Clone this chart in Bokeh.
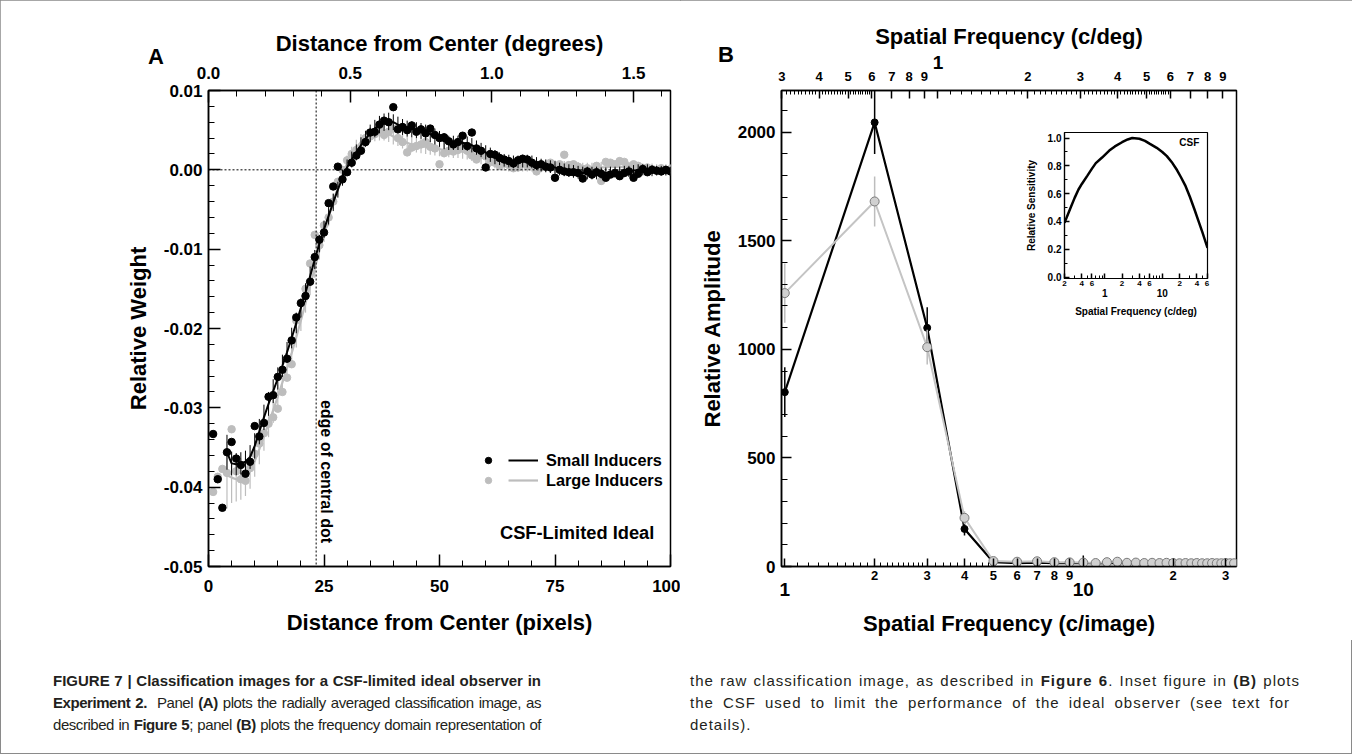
import numpy as np
from bokeh.plotting import figure
from bokeh.models import (Range1d, LinearAxis, LogAxis, LogScale, FixedTicker,
                          NumeralTickFormatter, ColumnDataSource, Span, Label,
                          Legend, LegendItem, GridBox, Div)
from bokeh.embed import file_html
from bokeh.resources import INLINE

FONT = "Liberation Sans"

# ---------------- Panel A data ----------------
pix = list(range(1, 101))
small_pts = [
    -0.0333, -0.0390, -0.0426, -0.0356, -0.0343, -0.0364, -0.0372, -0.0383, -0.0368, -0.0323,
    -0.0336, -0.0319, -0.0286, -0.0284, -0.0261, -0.0252, -0.0238, -0.0215, -0.0186, -0.0168,
    -0.0159, -0.0141, -0.0110, -0.0088, -0.0079, -0.0042, -0.0021, 0.0004, -0.0012, -0.0003,
    0.0009, 0.0018, 0.0024, 0.0035, 0.0047, 0.0048, 0.0057, 0.0062, 0.0060, 0.0079,
    0.0051, 0.0054, 0.0050, 0.0056, 0.0048, 0.0051, 0.0046, 0.0052, 0.0044, 0.0040,
    0.0041, 0.0036, 0.0032, 0.0035, 0.0043, 0.0030, 0.0047, 0.0027, 0.0024, 0.0003,
    0.0020, 0.0019, 0.0015, 0.0013, 0.0011, 0.0008, 0.0012, 0.0014, 0.0013, 0.0009,
    0.0006, 0.0007, 0.0004, 0.0003, -0.0010, 0.0000, -0.0002, -0.0003, -0.0003, -0.0004,
    -0.0011, -0.0002, -0.0006, -0.0003, -0.0005, -0.0010, -0.0006, -0.0004, -0.0008, -0.0004,
    -0.0002, -0.0010, -0.0005, 0.0001, -0.0003, 0.0000, -0.0001, -0.0002, 0.0000, -0.0002,
]
large_pts = [
    -0.0406, -0.0387, -0.0377, -0.0382, -0.0327, -0.0380, -0.0390, -0.0392, -0.0376, -0.0358,
    -0.0345, -0.0332, -0.0320, -0.0312, -0.0301, -0.0280, -0.0262, -0.0245, -0.0190, -0.0168,
    -0.0150, -0.0118, -0.0082, -0.0095, -0.0070, -0.0060, -0.0040, -0.0015, 0.0000, 0.0012,
    0.0020, 0.0025, 0.0028, 0.0040, 0.0042, 0.0045, 0.0050, 0.0044, 0.0048, 0.0052,
    0.0040, 0.0035, 0.0022, 0.0028, 0.0030, 0.0032, 0.0035, 0.0029, 0.0027, 0.0007,
    0.0021, 0.0024, 0.0023, 0.0025, 0.0030, 0.0024, 0.0018, 0.0013, 0.0019, 0.0017,
    0.0010, 0.0009, 0.0005, 0.0008, 0.0006, 0.0002, 0.0003, 0.0008, 0.0005, 0.0006,
    -0.0002, 0.0003, 0.0005, 0.0009, 0.0004, 0.0007, 0.0019, 0.0006, 0.0007, 0.0004,
    0.0001, 0.0002, -0.0006, 0.0005, -0.0014, 0.0010, 0.0009, 0.0007, 0.0011, 0.0010,
    0.0004, 0.0007, 0.0005, 0.0002, 0.0003, 0.0001, -0.0001, 0.0002, 0.0000, 0.0001,
]
fit_pix = list(range(4, 101))
small_fit = [
    -0.0356, -0.0370, -0.0371, -0.0370, -0.0368, -0.0362, -0.0348,
    -0.0330, -0.0312, -0.0295, -0.0279, -0.0263, -0.0247, -0.0230, -0.0212, -0.0193, -0.0174,
    -0.0155, -0.0134, -0.0113, -0.0093, -0.0075, -0.0058, -0.0041, -0.0025, -0.0010, 0.0003,
    0.0013, 0.0022, 0.0031, 0.0039, 0.0046, 0.0052, 0.0057, 0.0060, 0.0061, 0.0060,
    0.0057, 0.0054, 0.0052, 0.0051, 0.0050, 0.0049, 0.0047, 0.0045, 0.0042, 0.0039,
    0.0036, 0.0034, 0.0034, 0.0034, 0.0034, 0.0033, 0.0031, 0.0028, 0.0025, 0.0022,
    0.0019, 0.0016, 0.0014, 0.0012, 0.0011, 0.0010, 0.0010, 0.0011, 0.0011, 0.0010,
    0.0008, 0.0006, 0.0005, 0.0004, 0.0003, 0.0001, 0.0000, -0.0001, -0.0002, -0.0003,
    -0.0004, -0.0004, -0.0004, -0.0004, -0.0004, -0.0004, -0.0003, -0.0003, -0.0003, -0.0002,
    -0.0002, -0.0001, 0.0000, 0.0000, 0.0000, -0.0001, -0.0001, -0.0001, -0.0001, -0.0002,
]
large_fit = [
    -0.0385, -0.0388, -0.0390, -0.0390, -0.0387, -0.0380, -0.0367,
    -0.0352, -0.0336, -0.0320, -0.0303, -0.0286, -0.0268, -0.0250, -0.0231, -0.0211, -0.0190,
    -0.0168, -0.0146, -0.0124, -0.0102, -0.0080, -0.0060, -0.0040, -0.0022, -0.0006, 0.0008,
    0.0019, 0.0028, 0.0035, 0.0040, 0.0044, 0.0046, 0.0047, 0.0047, 0.0045, 0.0042,
    0.0039, 0.0036, 0.0034, 0.0032, 0.0031, 0.0030, 0.0029, 0.0028, 0.0027, 0.0026,
    0.0025, 0.0025, 0.0024, 0.0024, 0.0023, 0.0022, 0.0020, 0.0018, 0.0016, 0.0014,
    0.0012, 0.0010, 0.0008, 0.0007, 0.0006, 0.0006, 0.0006, 0.0006, 0.0006, 0.0006,
    0.0005, 0.0005, 0.0005, 0.0004, 0.0004, 0.0003, 0.0003, 0.0003, 0.0002, 0.0002,
    0.0002, 0.0002, 0.0002, 0.0003, 0.0003, 0.0003, 0.0004, 0.0004, 0.0004, 0.0003,
    0.0003, 0.0002, 0.0002, 0.0001, 0.0001, 0.0001, 0.0000, 0.0000, 0.0000, 0.0000,
]
small_err = [
    0.0022, 0.0015, 0.0014, 0.0014, 0.0014, 0.0015, 0.0016,
    0.0016, 0.0016, 0.0015, 0.0015, 0.0014, 0.0014, 0.0013, 0.0013, 0.0013, 0.0012,
    0.0012, 0.0012, 0.0012, 0.0011, 0.0011, 0.0011, 0.0011, 0.0010, 0.0010, 0.0010,
    0.0010, 0.0010, 0.0010, 0.0010, 0.0011, 0.0011, 0.0011, 0.0011, 0.0011, 0.0010,
    0.0010, 0.0010, 0.0010, 0.0010, 0.0010, 0.0010, 0.0010, 0.0010, 0.0010, 0.0010,
    0.0010, 0.0009, 0.0009, 0.0009, 0.0009, 0.0009, 0.0009, 0.0009, 0.0009, 0.0009,
    0.0009, 0.0009, 0.0008, 0.0008, 0.0008, 0.0008, 0.0008, 0.0008, 0.0008, 0.0008,
    0.0008, 0.0008, 0.0008, 0.0008, 0.0008, 0.0008, 0.0008, 0.0008, 0.0008, 0.0008,
    0.0008, 0.0008, 0.0008, 0.0008, 0.0007, 0.0007, 0.0007, 0.0007, 0.0007, 0.0007,
    0.0007, 0.0007, 0.0007, 0.0007, 0.0007, 0.0007, 0.0006, 0.0006, 0.0006, 0.0006,
]
large_err = [
    0.0042, 0.0032, 0.0028, 0.0026, 0.0024, 0.0022, 0.0020,
    0.0019, 0.0018, 0.0017, 0.0016, 0.0015, 0.0015, 0.0014, 0.0014, 0.0013, 0.0013,
    0.0012, 0.0012, 0.0012, 0.0011, 0.0011, 0.0011, 0.0010, 0.0010, 0.0010, 0.0010,
    0.0010, 0.0010, 0.0010, 0.0010, 0.0010, 0.0010, 0.0010, 0.0010, 0.0010, 0.0010,
    0.0009, 0.0009, 0.0009, 0.0009, 0.0009, 0.0009, 0.0009, 0.0009, 0.0009, 0.0009,
    0.0009, 0.0009, 0.0009, 0.0009, 0.0009, 0.0009, 0.0009, 0.0009, 0.0009, 0.0009,
    0.0008, 0.0008, 0.0008, 0.0008, 0.0008, 0.0008, 0.0008, 0.0008, 0.0008, 0.0008,
    0.0008, 0.0008, 0.0008, 0.0008, 0.0008, 0.0008, 0.0008, 0.0008, 0.0008, 0.0008,
    0.0007, 0.0007, 0.0007, 0.0007, 0.0007, 0.0007, 0.0007, 0.0007, 0.0007, 0.0007,
    0.0007, 0.0007, 0.0007, 0.0007, 0.0007, 0.0007, 0.0007, 0.0007, 0.0007, 0.0007,
]
IMAGE_PX = 200             # image size in pixels
IMAGE_DEG = 3.26           # image size in degrees of visual angle
PX_PER_DEG = IMAGE_PX / IMAGE_DEG
DOT_EDGE_PX = 23.3         # edge of central dot (pixels)

# ---------------- Panel B data ----------------
freq = list(range(1, 33))
small_amp = [803, 2045, 1099, 173, 20, 15, 18, 16, 15, 16, 14, 15, 16, 15, 14, 15,
             14, 15, 14, 14, 15, 14, 14, 14, 15, 14, 14, 14, 14, 14, 14, 14]
small_amp_err = [115, 145, 95, 30, 6, 4, 4, 4, 4, 35, 4, 4, 4, 4, 4, 4,
                 4, 4, 4, 4, 4, 4, 4, 4, 4, 4, 4, 4, 4, 4, 4, 4]
large_amp = [1259, 1681, 1010, 224, 25, 22, 24, 20, 19, 18, 16, 20, 22, 17, 18, 16,
             17, 16, 17, 16, 15, 16, 15, 16, 15, 15, 16, 15, 15, 16, 15, 15]
large_amp_err = [136, 115, 80, 30, 5, 4, 4, 4, 4, 4, 4, 4, 4, 4, 4, 4,
                 4, 4, 4, 4, 4, 4, 4, 4, 4, 4, 4, 4, 4, 4, 4, 4]

# ---------------- Inset CSF data ----------------
csf_freq = [0.2, 0.25, 0.3, 0.35, 0.4, 0.5, 0.6, 0.7, 0.9, 1.2, 1.5, 2, 2.5, 3, 4, 5,
            6, 8, 10, 12, 15, 18, 21, 25, 30, 36, 42, 50, 61]
csf_val = [0.39, 0.49, 0.57, 0.63, 0.67, 0.73, 0.78, 0.82, 0.86, 0.91, 0.94, 0.97, 0.99,
           1.00, 0.995, 0.98, 0.96, 0.93, 0.90, 0.87, 0.82, 0.77, 0.72, 0.66, 0.58,
           0.49, 0.41, 0.32, 0.21]

assert len(small_fit) == len(fit_pix) == len(large_fit) == len(small_err) == len(large_err)
assert len(small_pts) == len(large_pts) == len(pix)


def style_axis(ax, label_size="17px", title_size="22px", tin=12, tmin=6):
    ax.axis_line_color = "black"
    ax.axis_line_width = 1.5
    ax.major_tick_line_color = "black"
    ax.major_tick_line_width = 1.5
    ax.minor_tick_line_color = "black"
    ax.minor_tick_line_width = 1
    ax.major_tick_in = tin
    ax.major_tick_out = 0
    ax.minor_tick_in = tmin
    ax.minor_tick_out = 0
    ax.major_label_text_font = FONT
    ax.major_label_text_font_style = "bold"
    ax.major_label_text_font_size = label_size
    ax.major_label_text_color = "black"
    ax.axis_label_text_font = FONT
    ax.axis_label_text_font_style = "bold"
    ax.axis_label_text_font_size = title_size
    ax.axis_label_text_color = "black"


def bare_axis(ax):
    ax.axis_line_alpha = 0
    ax.major_tick_in = 0
    ax.major_tick_out = 0
    ax.minor_tick_in = 0
    ax.minor_tick_out = 0


# ================= Panel A =================
pA = figure(width=680, height=640, x_range=Range1d(0, 100), y_range=Range1d(-0.05, 0.01),
            output_backend="svg", toolbar_location=None,
            min_border_left=208, min_border_right=10, min_border_top=90, min_border_bottom=72)
pA.grid.visible = False
pA.outline_line_color = "black"
pA.outline_line_width = 1.5
pA.outline_line_alpha = 1

xa = pA.xaxis[0]
xa.ticker = FixedTicker(ticks=[0, 25, 50, 75, 100], minor_ticks=list(range(0, 101, 5)))
xa.axis_label = "Distance from Center (pixels)"
style_axis(xa)
xa.major_label_standoff = 13
xa.axis_label_standoff = 15

ya = pA.yaxis[0]
ya.ticker = FixedTicker(ticks=[-0.05, -0.04, -0.03, -0.02, -0.01, 0.0, 0.01],
                        minor_ticks=[round(-0.05 + 0.002 * i, 4) for i in range(31)])
ya.formatter = NumeralTickFormatter(format="0.00")
ya.axis_label = "Relative Weight"
style_axis(ya)
ya.major_label_standoff = 6
ya.axis_label_standoff = 10

pA.extra_x_ranges = {"deg": Range1d(0, 100 / PX_PER_DEG)}
ta = LinearAxis(x_range_name="deg", axis_label="Distance from Center (degrees)")
ta.ticker = FixedTicker(ticks=[0.0, 0.5, 1.0, 1.5], minor_ticks=[round(0.1 * i, 1) for i in range(17)])
ta.formatter = NumeralTickFormatter(format="0.0")
style_axis(ta)
ta.major_label_standoff = 12
ta.axis_label_standoff = 8
pA.add_layout(ta, "above")

pA.add_layout(Span(location=0, dimension="width", line_color="black", line_dash="2 2", line_width=1))
pA.add_layout(Span(location=DOT_EDGE_PX, dimension="height", line_color="black", line_dash="2 2", line_width=1))

GRAY = "#bdbdbd"
srcL = ColumnDataSource(dict(x=fit_pix, y=large_fit,
                             lo=[f - e for f, e in zip(large_fit, large_err)],
                             hi=[f + e for f, e in zip(large_fit, large_err)]))
srcS = ColumnDataSource(dict(x=fit_pix, y=small_fit,
                             lo=[f - e for f, e in zip(small_fit, small_err)],
                             hi=[f + e for f, e in zip(small_fit, small_err)]))
pA.segment(x0="x", y0="lo", x1="x", y1="hi", source=srcL, line_color=GRAY, line_width=1.2)
rLl = pA.line(x="x", y="y", source=srcL, line_color=GRAY, line_width=2.2)
rLp = pA.scatter(x=pix, y=large_pts, size=7.5, color=GRAY)
pA.segment(x0="x", y0="lo", x1="x", y1="hi", source=srcS, line_color="black", line_width=1)
rSl = pA.line(x="x", y="y", source=srcS, line_color="black", line_width=2)
rSp = pA.scatter(x=pix, y=small_pts, size=7.5, color="black")

leg_dots = Legend(items=[LegendItem(label=" ", renderers=[rSp]), LegendItem(label=" ", renderers=[rLp])],
                  location=(272, 76), glyph_width=16, glyph_height=20, label_height=20,
                  label_width=0, label_standoff=0, spacing=0, padding=0, margin=0,
                  border_line_alpha=0, background_fill_alpha=0, label_text_font_size="1px")
leg_lines = Legend(items=[LegendItem(label="Small Inducers", renderers=[rSl]),
                          LegendItem(label="Large Inducers", renderers=[rLl])],
                   location=(300, 76), glyph_width=30, glyph_height=20, label_height=20,
                   label_standoff=8, spacing=0, padding=0, margin=0,
                   border_line_alpha=0, background_fill_alpha=0,
                   label_text_font=FONT, label_text_font_style="bold", label_text_font_size="16.3px",
                   label_text_color="black")
pA.add_layout(leg_dots)
pA.add_layout(leg_lines)

pA.add_layout(Label(x=96.5, y=-0.0457, text="CSF-Limited Ideal", text_align="right",
                    text_baseline="middle", text_font=FONT, text_font_style="bold",
                    text_font_size="18.3px", text_color="black"))
pA.add_layout(Label(x=25.6, y=-0.0290, text="edge of central dot", angle=-np.pi / 2,
                    text_align="left", text_baseline="middle", text_font=FONT,
                    text_font_style="bold", text_font_size="16px", text_color="black"))

# ================= Panel B =================
XB0, XB1 = 0.975, 32.6
pB = figure(width=672, height=640, x_axis_type="log", x_range=Range1d(XB0, XB1),
            y_range=Range1d(0, 2192), output_backend="svg", toolbar_location=None,
            min_border_left=101, min_border_right=116, min_border_top=90, min_border_bottom=74)
pB.grid.visible = False
pB.outline_line_color = "black"
pB.outline_line_width = 1.5
pB.outline_line_alpha = 1

bx = pB.xaxis[0]
bx.ticker = FixedTicker(ticks=[1, 2, 3, 4, 5, 6, 7, 8, 9, 10, 20, 30],
                        minor_ticks=[round(1 + 0.1 * i, 1) for i in range(1, 20)] +
                                    [3.2, 3.4, 3.6, 3.8, 4.2, 4.4, 4.6, 4.8])
bx.major_label_overrides = {1: "", 2: "2", 3: "3", 4: "4", 5: "5", 6: "6", 7: "7", 8: "8",
                            9: "9", 10: "", 20: "2", 30: "3"}
style_axis(bx, label_size="13px", tin=8, tmin=4)
bx.major_label_standoff = 4

bx2 = LogAxis(axis_label="Spatial Frequency (c/image)")
bx2.ticker = FixedTicker(ticks=[1, 10], minor_ticks=[])
bx2.major_label_overrides = {1: "1", 10: "10"}
style_axis(bx2, label_size="19px")
bare_axis(bx2)
bx2.major_label_standoff = 0
bx2.axis_label_standoff = 12
pB.add_layout(bx2, "below")

by = pB.yaxis[0]
by.ticker = FixedTicker(ticks=[0, 500, 1000, 1500, 2000], minor_ticks=list(range(0, 2200, 100)))
by.formatter = NumeralTickFormatter(format="0")
by.axis_label = "Relative Amplitude"
style_axis(by, tin=10, tmin=6)
by.major_label_standoff = 6
by.axis_label_standoff = 10

pB.extra_x_ranges = {"cdeg": Range1d(XB0 / IMAGE_DEG, XB1 / IMAGE_DEG)}
pB.extra_x_scales = {"cdeg": LogScale()}
tx = LogAxis(x_range_name="cdeg")
tx.ticker = FixedTicker(
    ticks=[0.3, 0.4, 0.5, 0.6, 0.7, 0.8, 0.9, 1, 2, 3, 4, 5, 6, 7, 8, 9],
    minor_ticks=[round(0.3 + 0.01 * i, 2) for i in range(1, 30)] +
                [round(1 + 0.1 * i, 1) for i in range(1, 50)])
tx.major_label_overrides = {0.3: "3", 0.4: "4", 0.5: "5", 0.6: "6", 0.7: "7", 0.8: "8", 0.9: "9",
                            1: "", 2: "2", 3: "3", 4: "4", 5: "5", 6: "6", 7: "7", 8: "8", 9: "9"}
style_axis(tx, label_size="13px", tin=8, tmin=4)
tx.major_label_standoff = 10
pB.add_layout(tx, "above")
tx2 = LogAxis(x_range_name="cdeg", axis_label="Spatial Frequency (c/deg)")
tx2.ticker = FixedTicker(ticks=[1], minor_ticks=[])
tx2.major_label_overrides = {1: "1"}
style_axis(tx2, label_size="19px")
bare_axis(tx2)
tx2.major_label_standoff = 0
tx2.axis_label_standoff = 4
pB.add_layout(tx2, "above")

srcBS = ColumnDataSource(dict(x=freq, y=small_amp,
                              lo=[a - e for a, e in zip(small_amp, small_amp_err)],
                              hi=[a + e for a, e in zip(small_amp, small_amp_err)]))
srcBL = ColumnDataSource(dict(x=freq, y=large_amp,
                              lo=[a - e for a, e in zip(large_amp, large_amp_err)],
                              hi=[a + e for a, e in zip(large_amp, large_amp_err)]))
pB.segment(x0="x", y0="lo", x1="x", y1="hi", source=srcBS, line_color="black", line_width=1.5)
pB.line(x="x", y="y", source=srcBS, line_color="black", line_width=2.2)
pB.scatter(x="x", y="y", source=srcBS, size=7, color="black")
pB.segment(x0="x", y0="lo", x1="x", y1="hi", source=srcBL, line_color=GRAY, line_width=1.5)
pB.line(x="x", y="y", source=srcBL, line_color="#c4c4c4", line_width=2)
pB.scatter(x="x", y="y", source=srcBL, size=9, fill_color="#d0d0d0", line_color="#7a7a7a",
           line_width=1)

# ================= Inset =================
pI = figure(width=205, height=200, x_axis_type="log", x_range=Range1d(0.2, 61),
            y_range=Range1d(-0.01, 1.04), output_backend="svg", toolbar_location=None,
            min_border_left=54, min_border_right=8, min_border_top=12, min_border_bottom=42)
pI.grid.visible = False
pI.outline_line_color = "black"
pI.outline_line_width = 1.2
pI.outline_line_alpha = 1
pI.background_fill_alpha = 0
pI.border_fill_alpha = 0

ix = pI.xaxis[0]
ix.ticker = FixedTicker(ticks=[0.2, 0.4, 0.6, 1, 2, 4, 6, 10, 20, 40, 60],
                        minor_ticks=[0.3, 0.5, 0.7, 0.8, 0.9, 3, 5, 7, 8, 9, 30, 50])
ix.major_label_overrides = {0.2: "2", 0.4: "4", 0.6: "6", 1: "", 2: "2", 4: "4", 6: "6",
                            10: "", 20: "2", 40: "4", 60: "6"}
style_axis(ix, label_size="8px", tin=5, tmin=3)
ix.axis_line_width = 1.2
ix.major_label_standoff = 2
ix2 = LogAxis(axis_label="Spatial Frequency (c/deg)")
ix2.ticker = FixedTicker(ticks=[1, 10], minor_ticks=[])
ix2.major_label_overrides = {1: "1", 10: "10"}
style_axis(ix2, label_size="10px", title_size="10px")
bare_axis(ix2)
ix2.major_label_standoff = 0
ix2.axis_label_standoff = 6
pI.add_layout(ix2, "below")

iy = pI.yaxis[0]
iy.ticker = FixedTicker(ticks=[0.0, 0.2, 0.4, 0.6, 0.8, 1.0],
                        minor_ticks=[round(0.1 * i, 1) for i in range(11)])
iy.formatter = NumeralTickFormatter(format="0.0")
iy.axis_label = "Relative Sensitivity"
style_axis(iy, label_size="10px", title_size="10px", tin=5, tmin=3)
iy.axis_line_width = 1.2
iy.major_label_standoff = 3
iy.axis_label_standoff = 8

pI.line(x=csf_freq, y=csf_val, line_color="black", line_width=2.5)
pI.add_layout(Label(x=44, y=0.965, text="CSF", text_align="right", text_baseline="middle",
                    text_font=FONT, text_font_style="bold", text_font_size="10px", text_color="black"))

# ================= Panel letters + caption (overlay) =================
J = "text-align:justify;text-align-last:justify;white-space:nowrap;"
over_html = f"""
<div style="position:relative;width:1352px;height:754px;font-family:'Liberation Sans',Arial,sans-serif;color:#231f20;pointer-events:none;">
<div style="position:absolute;left:143px;top:36px;font-size:22px;font-weight:bold;color:black;">A</div>
<div style="position:absolute;left:713px;top:34px;font-size:22px;font-weight:bold;color:black;">B</div>
<div style="position:absolute;left:48px;top:665px;font-size:15px;line-height:22px;">
<div style="width:488px;{J}"><b>FIGURE 7 | Classification images for a CSF-limited ideal observer in</b></div>
<div style="width:488px;letter-spacing:-0.45px;{J}"><b>Experiment 2.</b>&nbsp; Panel <b>(A)</b> plots the radially averaged classification image, as</div>
<div style="width:488px;letter-spacing:-0.45px;{J}">described in <b>Figure 5</b>; panel <b>(B)</b> plots the frequency domain representation of</div>
</div>
<div style="position:absolute;left:685px;top:665px;font-size:15px;line-height:22px;">
<div style="width:610px;letter-spacing:1.0px;{J}">the raw classification image, as described in <b>Figure 6</b>. Inset figure in <b>(B)</b> plots</div>
<div style="width:600px;letter-spacing:1.0px;{J}">the CSF used to limit the performance of the ideal observer (see text for</div>
<div style="letter-spacing:1.0px;white-space:nowrap;">details).</div>
</div>
</div>
"""
over = Div(text=over_html, width=1352, height=754)

p = GridBox(children=[(pA, 0, 0, 3, 1), (pB, 0, 1, 3, 3), (pI, 1, 2, 1, 1), (over, 0, 0, 4, 4)],
            rows=["120px", "200px", "320px", "114px"], cols=["680px", "330px", "205px", "137px"],
            styles={"outline": "1px solid #8a8a8a", "outline-offset": "-1px", "background": "white"})

open("out.html", "w").write(file_html(p, INLINE))
